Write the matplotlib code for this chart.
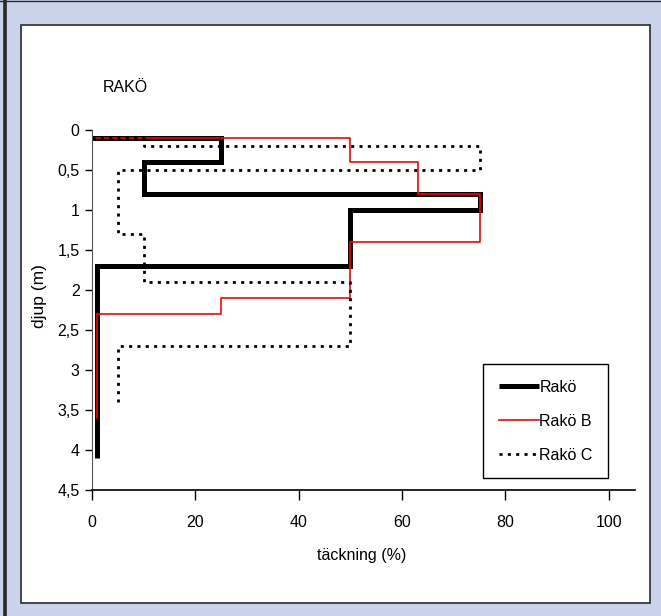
import numpy as np
import matplotlib
matplotlib.use("Agg")
import matplotlib.pyplot as plt
from matplotlib.patches import Rectangle

# depth breaks (m) and coverage (%) per depth interval
rako_depth = [0.1, 0.4, 0.8, 1.0, 1.7, 4.1]
rako_cover = [25, 10, 75, 50, 1]
rakob_depth = [0.1, 0.4, 0.8, 1.4, 2.1, 2.3, 3.6]
rakob_cover = [50, 63, 75, 50, 25, 1]
rakoc_depth = [0.1, 0.2, 0.5, 1.3, 1.9, 2.7, 3.4]
rakoc_cover = [10, 75, 5, 10, 50, 5]

xticks = [0, 20, 40, 60, 80, 100]
yticks = [0, 0.5, 1, 1.5, 2, 2.5, 3, 3.5, 4, 4.5]
ytick_labels = ["0", "0,5", "1", "1,5", "2", "2,5", "3", "3,5", "4", "4,5"]


def profile(depth, cover):
    # start at 0 % on the first depth, then a vertical run for each interval
    xs, ys = [0], [depth[0]]
    for i, c in enumerate(cover):
        xs += [c, c]
        ys += [depth[i], depth[i + 1]]
    return xs, ys


plt.rcParams["font.family"] = ["Liberation Sans", "DejaVu Sans"]
fs = 11.5

fig = plt.figure(figsize=(6.61, 6.16), dpi=100)
fig.patch.set_facecolor("#CBD3EA")
# white panel with dark frame
fig.patches.append(Rectangle((21 / 661, 1 - 603 / 616), 629 / 661, 578 / 616,
                             transform=fig.transFigure, facecolor="white",
                             edgecolor="#3a3a3a", linewidth=1.3, zorder=-10))
fig.lines.append(plt.Line2D([4.5 / 661, 4.5 / 661], [0, 1], transform=fig.transFigure,
                            color="#2a2a2a", linewidth=2.6, zorder=-5))
fig.lines.append(plt.Line2D([0, 1], [0.999, 0.999], transform=fig.transFigure,
                            color="#2a2a2a", linewidth=1, zorder=-5))

ax = fig.add_axes([92 / 661, 1 - 490 / 616, 542.5 / 661, 360 / 616])
ax.set_facecolor("none")

x, y = profile(rako_depth, rako_cover)
ax.plot(x, y, color="black", linewidth=3.6, label="Rakö",
        solid_joinstyle="miter", solid_capstyle="butt")
x, y = profile(rakob_depth, rakob_cover)
ax.plot(x, y, color="#ff0000", linewidth=1.2, label="Rakö B")
x, y = profile(rakoc_depth, rakoc_cover)
ax.plot(x, y, color="black", linewidth=2.0, linestyle=(0, (1.1, 1.9)), label="Rakö C")

ax.set_xlim(0, 105)
ax.set_ylim(4.5, 0)
ax.set_xticks(xticks)
ax.set_xticklabels([str(v) for v in xticks], fontsize=fs)
ax.set_yticks(yticks)
ax.set_yticklabels(ytick_labels, fontsize=fs)
ax.tick_params(axis="x", direction="out", length=7, width=1, pad=11)
ax.tick_params(axis="y", direction="out", length=5, width=1, pad=4)
for s in ["top", "right"]:
    ax.spines[s].set_visible(False)
ax.spines["left"].set_color("#555555")
ax.spines["bottom"].set_linewidth(1.2)

ax.set_xlabel("täckning (%)", fontsize=fs)
ax.xaxis.set_label_coords(0.498, -0.16)
ax.set_ylabel("djup (m)", fontsize=12.5)
ax.yaxis.set_label_coords(-0.083, 0.54)
fig.text(103 / 661, 1 - 88 / 616, "RAKÖ", fontsize=fs, va="center", ha="left")

leg = ax.legend(loc="lower right", bbox_to_anchor=(0.951, 0.033), fontsize=fs,
                fancybox=False, framealpha=1, edgecolor="black", handlelength=2.5,
                handletextpad=0.05, labelspacing=1.2, borderpad=0.95,
                borderaxespad=0)
leg.get_frame().set_linewidth(1)

fig.savefig("out.png", dpi=100, facecolor=fig.get_facecolor())
